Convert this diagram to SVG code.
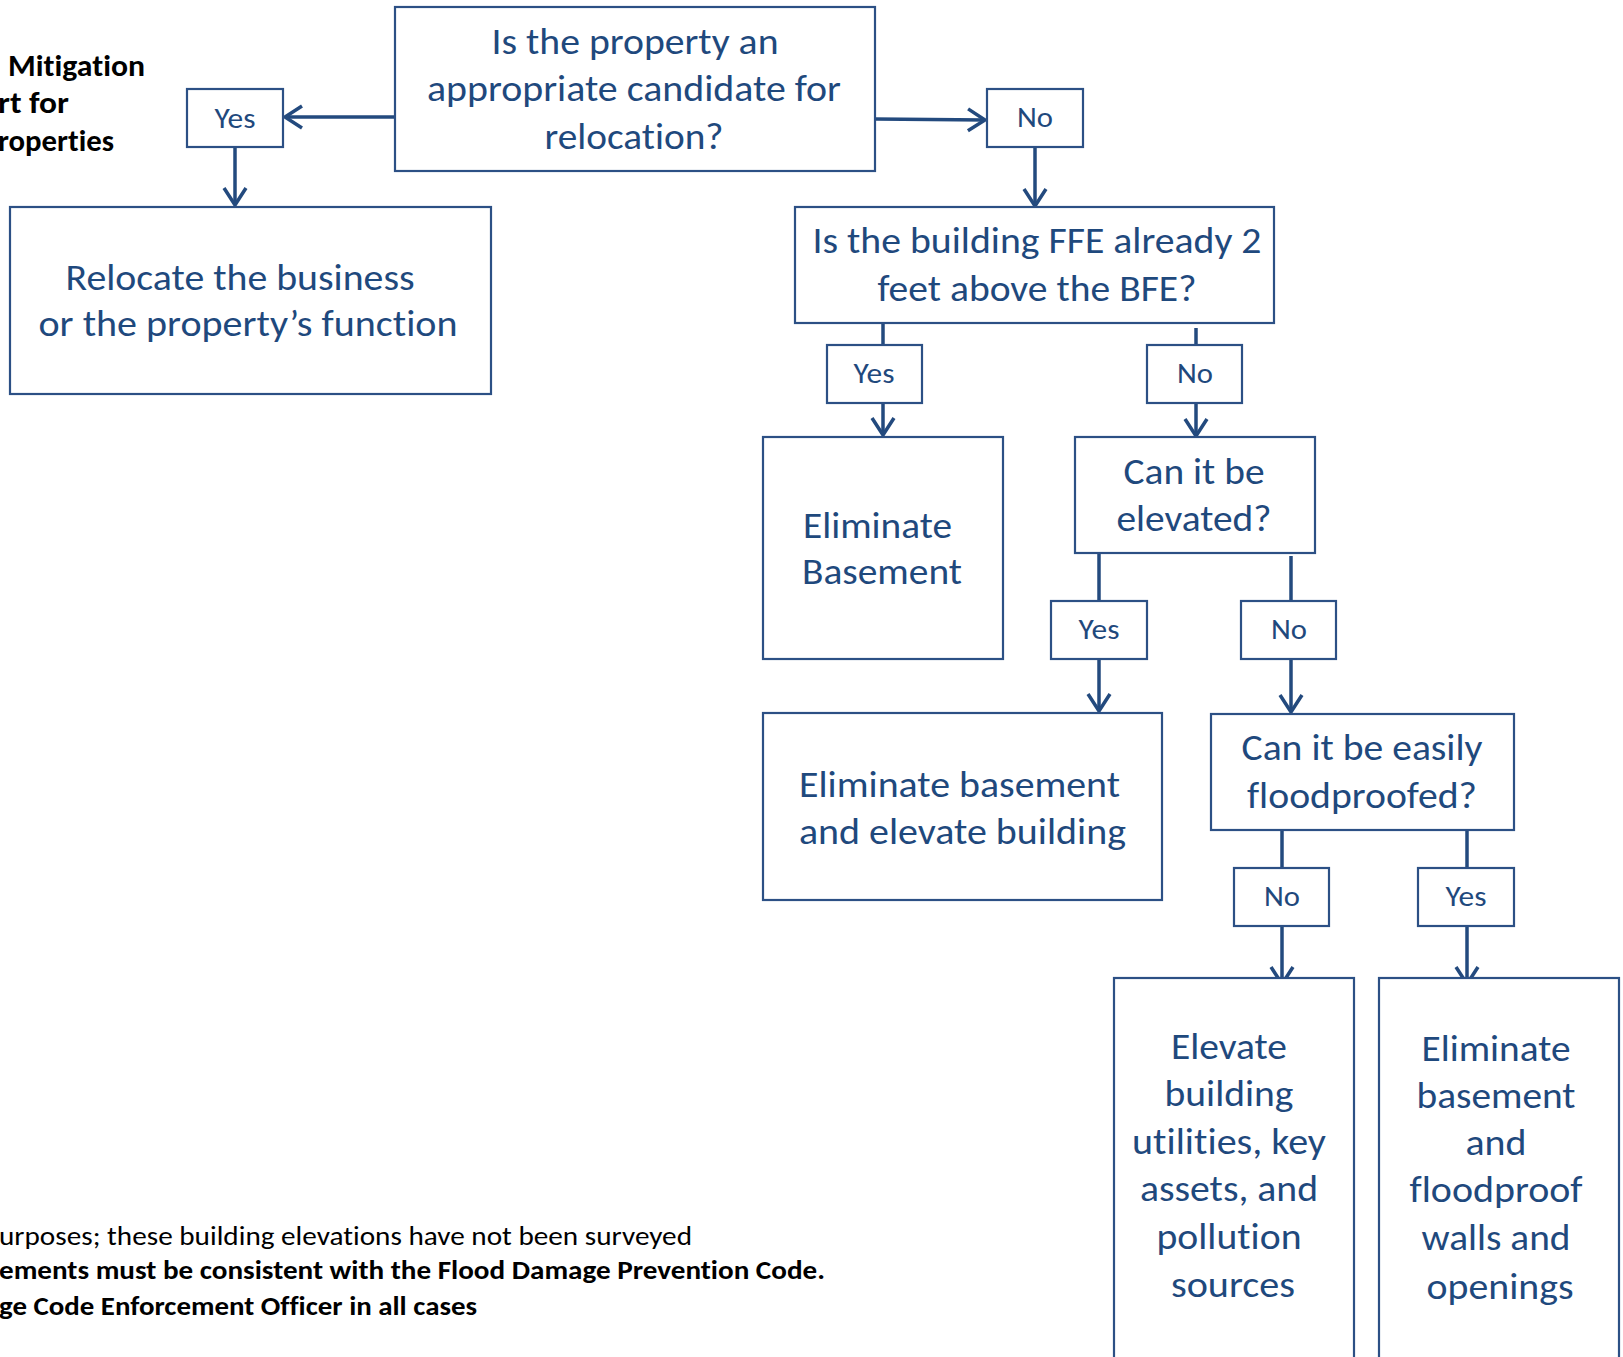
<svg xmlns="http://www.w3.org/2000/svg" width="1623" height="1357" viewBox="0 0 1623 1357">
<style>
text{font-variant-ligatures:none;font-feature-settings:"liga" 0}
.box{fill:#ffffff;stroke:#2C5085;stroke-width:2.2}
.t{font-family:Carlito,Calibri,Lato,"Open Sans",sans-serif;font-size:36px;fill:#1F497D}
.m{text-anchor:middle}
.lbl{font-family:Carlito,Calibri,Lato,"Open Sans",sans-serif;font-size:28px;fill:#1F497D;text-anchor:middle}
.k{font-family:Carlito,Calibri,Lato,"Open Sans",sans-serif;fill:#000000}
.c{fill:none;stroke:#234A7E;stroke-width:3.5}
</style>
<defs>
<marker id="ah" markerUnits="userSpaceOnUse" markerWidth="26" markerHeight="28" refX="20" refY="13" orient="auto" overflow="visible">
<path d="M3,2 L20,13 L3,24" fill="none" stroke="#234A7E" stroke-width="3.5"/>
</marker>
</defs>
<rect width="1623" height="1357" fill="#ffffff"/>

<g id="title">
<text class="k" x="8" y="76" font-size="30" font-weight="bold" textLength="137" lengthAdjust="spacingAndGlyphs">Mitigation</text>
<text class="k" x="-2" y="113" font-size="30" font-weight="bold" textLength="71" lengthAdjust="spacingAndGlyphs">rt for</text>
<text class="k" x="-2" y="151" font-size="30" font-weight="bold" textLength="116" lengthAdjust="spacingAndGlyphs">roperties</text>
</g>

<g id="footnotes">
<text class="k" x="-1" y="1245" font-size="26" textLength="693" lengthAdjust="spacingAndGlyphs">urposes; these building elevations have not been surveyed</text>
<text class="k" x="-1" y="1279" font-size="26" font-weight="bold" textLength="826" lengthAdjust="spacingAndGlyphs">ements must be consistent with the Flood Damage Prevention Code.</text>
<text class="k" x="-1" y="1315" font-size="26" font-weight="bold" textLength="478" lengthAdjust="spacingAndGlyphs">ge Code Enforcement Officer in all cases</text>
</g>

<g id="connectors">
<path class="c" d="M395,117 L285,117" marker-end="url(#ah)"/>
<path class="c" d="M875,119 L985,120" marker-end="url(#ah)"/>
<path class="c" d="M235,147 L235,205" marker-end="url(#ah)"/>
<path class="c" d="M1035,147 L1035,206" marker-end="url(#ah)"/>
<path class="c" d="M883,323 L883,345"/>
<path class="c" d="M883,403 L883,435" marker-end="url(#ah)"/>
<path class="c" d="M1196,328 L1196,345"/>
<path class="c" d="M1196,403 L1196,436" marker-end="url(#ah)"/>
<path class="c" d="M1099,553 L1099,601"/>
<path class="c" d="M1099,659 L1099,711" marker-end="url(#ah)"/>
<path class="c" d="M1291,556 L1291,601"/>
<path class="c" d="M1291,659 L1291,712" marker-end="url(#ah)"/>
<path class="c" d="M1282,830 L1282,868"/>
<path class="c" d="M1282,926 L1282,984" marker-end="url(#ah)"/>
<path class="c" d="M1467,830 L1467,868"/>
<path class="c" d="M1467,926 L1467,984" marker-end="url(#ah)"/>
</g>

<g id="q1">
<rect class="box" x="395" y="7" width="480" height="164"/>
<text class="t m" x="635" y="54" textLength="287" lengthAdjust="spacingAndGlyphs">Is the property an</text>
<text class="t m" x="634" y="101" textLength="414" lengthAdjust="spacingAndGlyphs">appropriate candidate for</text>
<text class="t m" x="634" y="149" textLength="179" lengthAdjust="spacingAndGlyphs">relocation?</text>
</g>

<g id="yes1">
<rect class="box" x="187" y="89" width="96" height="58"/>
<text class="lbl" x="235" y="128" textLength="41" lengthAdjust="spacingAndGlyphs">Yes</text>
</g>

<g id="no1">
<rect class="box" x="987" y="89" width="96" height="58"/>
<text class="lbl" x="1035" y="127" textLength="36" lengthAdjust="spacingAndGlyphs">No</text>
</g>

<g id="relocate">
<rect class="box" x="10" y="207" width="481" height="187"/>
<text class="t m" x="240" y="290" textLength="349" lengthAdjust="spacingAndGlyphs">Relocate the business</text>
<text class="t m" x="248" y="336" textLength="419" lengthAdjust="spacingAndGlyphs">or the property’s function</text>
</g>

<g id="q2">
<rect class="box" x="795" y="207" width="479" height="116"/>
<text class="t m" x="1037" y="253" textLength="449" lengthAdjust="spacingAndGlyphs">Is the building FFE already 2</text>
<text class="t m" x="1037" y="301" textLength="319" lengthAdjust="spacingAndGlyphs">feet above the BFE?</text>
</g>

<g id="yes2">
<rect class="box" x="827" y="345" width="95" height="58"/>
<text class="lbl" x="874" y="383" textLength="41" lengthAdjust="spacingAndGlyphs">Yes</text>
</g>

<g id="no2">
<rect class="box" x="1147" y="345" width="95" height="58"/>
<text class="lbl" x="1195" y="383" textLength="36" lengthAdjust="spacingAndGlyphs">No</text>
</g>

<g id="elim-basement">
<rect class="box" x="763" y="437" width="240" height="222"/>
<text class="t" x="803" y="538" textLength="149" lengthAdjust="spacingAndGlyphs">Eliminate</text>
<text class="t" x="802" y="584" textLength="160" lengthAdjust="spacingAndGlyphs">Basement</text>
</g>

<g id="q3">
<rect class="box" x="1075" y="437" width="240" height="116"/>
<text class="t m" x="1194" y="484" textLength="141" lengthAdjust="spacingAndGlyphs">Can it be</text>
<text class="t m" x="1194" y="531" textLength="155" lengthAdjust="spacingAndGlyphs">elevated?</text>
</g>

<g id="yes3">
<rect class="box" x="1051" y="601" width="96" height="58"/>
<text class="lbl" x="1099" y="639" textLength="41" lengthAdjust="spacingAndGlyphs">Yes</text>
</g>

<g id="no3">
<rect class="box" x="1241" y="601" width="95" height="58"/>
<text class="lbl" x="1289" y="639" textLength="36" lengthAdjust="spacingAndGlyphs">No</text>
</g>

<g id="elim-elevate">
<rect class="box" x="763" y="713" width="399" height="187"/>
<text class="t" x="799" y="797" textLength="321" lengthAdjust="spacingAndGlyphs">Eliminate basement</text>
<text class="t" x="799" y="844" textLength="327" lengthAdjust="spacingAndGlyphs">and elevate building</text>
</g>

<g id="q4">
<rect class="box" x="1211" y="714" width="303" height="116"/>
<text class="t m" x="1362" y="760" textLength="241" lengthAdjust="spacingAndGlyphs">Can it be easily</text>
<text class="t m" x="1362" y="808" textLength="230" lengthAdjust="spacingAndGlyphs">floodproofed?</text>
</g>

<g id="no4">
<rect class="box" x="1234" y="868" width="95" height="58"/>
<text class="lbl" x="1282" y="906" textLength="36" lengthAdjust="spacingAndGlyphs">No</text>
</g>

<g id="yes4">
<rect class="box" x="1418" y="868" width="96" height="58"/>
<text class="lbl" x="1466" y="906" textLength="41" lengthAdjust="spacingAndGlyphs">Yes</text>
</g>

<g id="elevate-utilities">
<rect class="box" x="1114" y="978" width="240" height="390"/>
<text class="t m" x="1229" y="1059" textLength="116" lengthAdjust="spacingAndGlyphs">Elevate</text>
<text class="t m" x="1229" y="1106" textLength="129" lengthAdjust="spacingAndGlyphs">building</text>
<text class="t m" x="1229" y="1154" textLength="194" lengthAdjust="spacingAndGlyphs">utilities, key</text>
<text class="t m" x="1229" y="1201" textLength="178" lengthAdjust="spacingAndGlyphs">assets, and</text>
<text class="t m" x="1229" y="1249" textLength="145" lengthAdjust="spacingAndGlyphs">pollution</text>
<text class="t m" x="1233" y="1297" textLength="124" lengthAdjust="spacingAndGlyphs">sources</text>
</g>

<g id="elim-floodproof">
<rect class="box" x="1379" y="978" width="240" height="390"/>
<text class="t m" x="1496" y="1061" textLength="149" lengthAdjust="spacingAndGlyphs">Eliminate</text>
<text class="t m" x="1496" y="1108" textLength="159" lengthAdjust="spacingAndGlyphs">basement</text>
<text class="t m" x="1496" y="1155" textLength="61" lengthAdjust="spacingAndGlyphs">and</text>
<text class="t m" x="1496" y="1202" textLength="173" lengthAdjust="spacingAndGlyphs">floodproof</text>
<text class="t m" x="1496" y="1250" textLength="149" lengthAdjust="spacingAndGlyphs">walls and</text>
<text class="t m" x="1500" y="1299" textLength="147" lengthAdjust="spacingAndGlyphs">openings</text>
</g>
</svg>
